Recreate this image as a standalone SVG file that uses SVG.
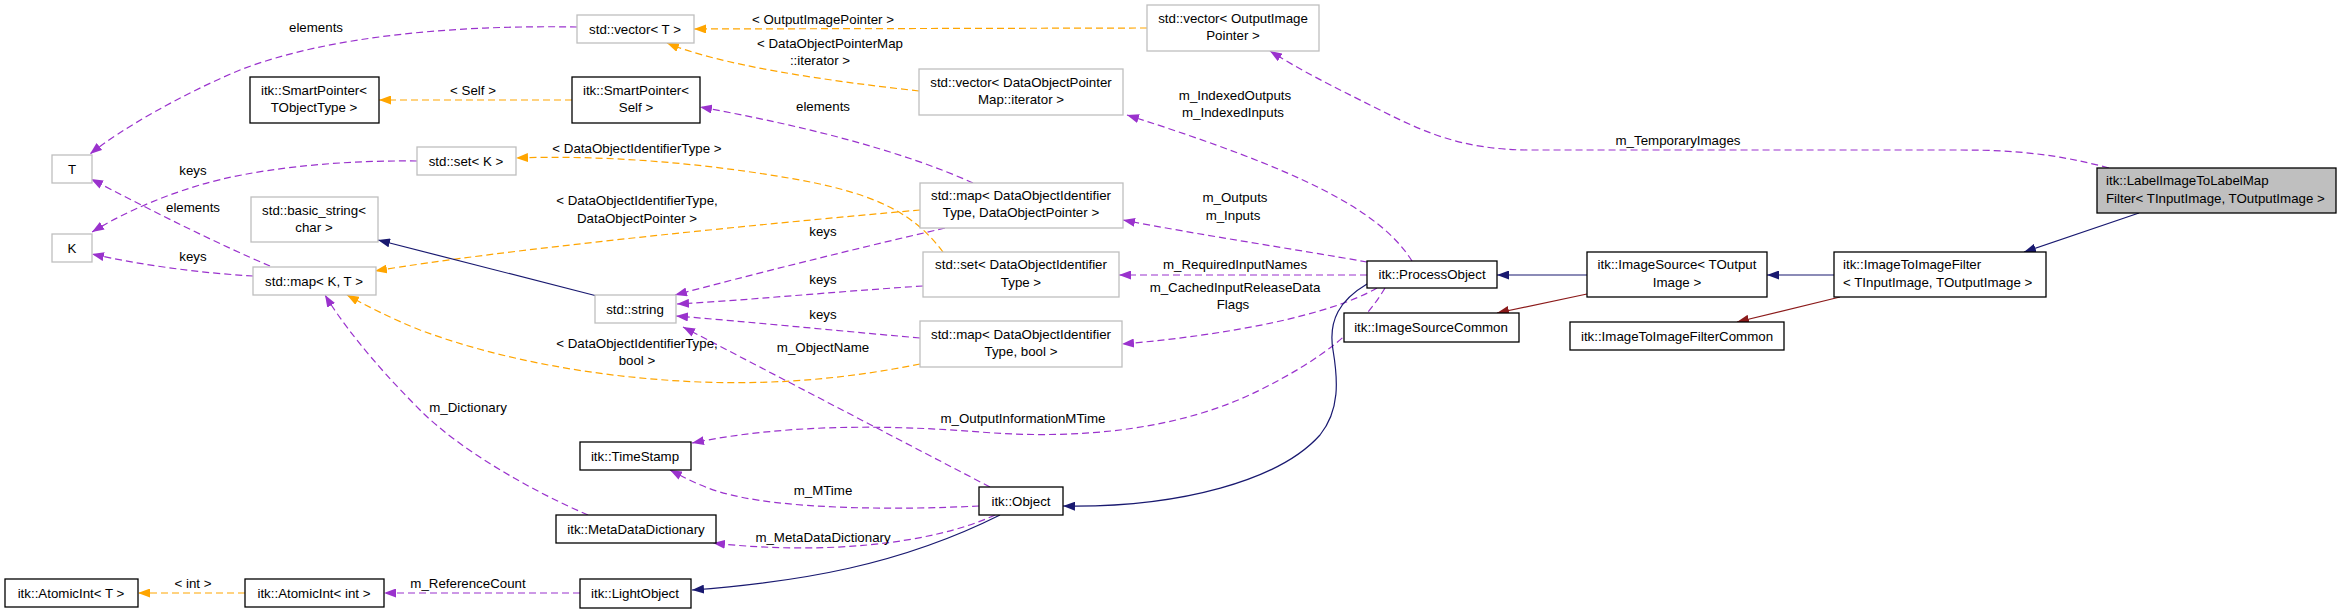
<svg xmlns="http://www.w3.org/2000/svg" width="2341" height="613" viewBox="0 0 2341 613">
<style>
text{font-family:"Liberation Sans",Arial,sans-serif;font-size:13.3px;fill:#000}
.n text{text-anchor:middle}
.g rect{fill:#fff;stroke:#bfbfbf;stroke-width:1.3}
.b rect{fill:#fff;stroke:#000;stroke-width:1.3}
.e path{fill:none;stroke-width:1.2}
.p{stroke:#9a32cd;stroke-dasharray:7,4;marker-end:url(#mp)}
.o{stroke:#ffa500;stroke-dasharray:7,4;marker-end:url(#mo)}
.v{stroke:#191970;marker-end:url(#mv)}
.r{stroke:#8b1a1a;marker-end:url(#mr)}
.l text{text-anchor:middle}
</style>
<defs>
<marker id="mp" markerUnits="userSpaceOnUse" markerWidth="12" markerHeight="9" refX="12" refY="4.5" orient="auto"><path d="M0,0 L12,4.5 L0,9z" fill="#9a32cd"/></marker>
<marker id="mo" markerUnits="userSpaceOnUse" markerWidth="12" markerHeight="9" refX="12" refY="4.5" orient="auto"><path d="M0,0 L12,4.5 L0,9z" fill="#ffa500"/></marker>
<marker id="mv" markerUnits="userSpaceOnUse" markerWidth="12" markerHeight="9" refX="12" refY="4.5" orient="auto"><path d="M0,0 L12,4.5 L0,9z" fill="#191970"/></marker>
<marker id="mr" markerUnits="userSpaceOnUse" markerWidth="12" markerHeight="9" refX="12" refY="4.5" orient="auto"><path d="M0,0 L12,4.5 L0,9z" fill="#8b1a1a"/></marker>
</defs>
<rect width="2341" height="613" fill="#fff"/>
<g id="edges" class="e">
<path class="p" d="M577,27 C460,25 330,35 240,70 C180,95 120,130 90,154"/>
<path class="p" d="M417,161 C330,160 250,170 200,185 C150,200 115,218 92,232"/>
<path class="p" d="M270,266 C220,245 150,210 91,179"/>
<path class="p" d="M253,276 C200,273 140,265 92,254"/>
<path class="o" d="M572,100 L379,100"/>
<path class="o" d="M1147,28 L694,29"/>
<path class="o" d="M919,91 C820,80 720,65 667,43"/>
<path class="p" d="M973,183 C900,150 800,125 700,107"/>
<path class="o" d="M943,252 C915,215 880,195 800,180 C700,162 600,155 516,158"/>
<path class="o" d="M920,210 C750,225 500,250 375,271"/>
<path class="v" d="M597,296 L378,240"/>
<path class="p" d="M945,228 C850,250 750,275 675,295"/>
<path class="p" d="M923,286 C830,292 750,300 677,304"/>
<path class="p" d="M920,338 C830,330 750,322 676,316"/>
<path class="o" d="M920,364 C850,378 780,385 700,382 C600,378 500,360 420,330 C390,318 365,305 347,295"/>
<path class="p" d="M588,515 C530,490 460,450 420,410 C370,360 340,320 325,295"/>
<path class="p" d="M990,487 L683,327"/>
<path class="p" d="M1412,261 C1380,210 1300,170 1127,115"/>
<path class="p" d="M2109,168 C2060,155 2020,150 1960,150 L1530,150 C1460,150 1420,130 1380,110 C1330,85 1300,70 1270,51"/>
<path class="p" d="M1367,262 C1300,250 1200,235 1123,220"/>
<path class="p" d="M1367,275 L1119,275"/>
<path class="p" d="M1377,288 C1330,315 1230,335 1122,344"/>
<path class="p" d="M1385,288 C1360,330 1320,360 1260,390 C1180,430 1080,440 980,432 C880,424 780,425 692,443"/>
<path class="p" d="M979,506 C900,510 780,510 720,492 C700,486 685,478 670,470"/>
<path class="p" d="M995,515 C930,545 820,555 713,543"/>
<path class="o" d="M245,593 L138,593"/>
<path class="p" d="M580,593 L384,593"/>
<path class="v" d="M1000,515 C900,565 800,582 692,590"/>
<path class="v" d="M1367,284 C1340,300 1328,320 1333,350 C1338,380 1340,410 1320,435 C1280,480 1180,508 1063,506"/>
<path class="v" d="M1587,275 L1497,275"/>
<path class="r" d="M1587,294 L1497,313"/>
<path class="v" d="M1834,275 L1767,275"/>
<path class="r" d="M1840,297 L1737,322"/>
<path class="v" d="M2139,213 L2024,252"/>
</g>
<g id="labels" class="l">
<text x="316" y="32">elements</text>
<text x="193" y="175">keys</text>
<text x="193" y="212">elements</text>
<text x="193" y="261">keys</text>
<text x="473" y="95">&lt; Self &gt;</text>
<text x="823" y="24">&lt; OutputImagePointer &gt;</text>
<text x="830" y="48">&lt; DataObjectPointerMap</text>
<text x="820" y="65">::iterator &gt;</text>
<text x="823" y="111">elements</text>
<text x="637" y="153">&lt; DataObjectIdentifierType &gt;</text>
<text x="637" y="205">&lt; DataObjectIdentifierType,</text>
<text x="637" y="223">DataObjectPointer &gt;</text>
<text x="823" y="236">keys</text>
<text x="823" y="284">keys</text>
<text x="823" y="319">keys</text>
<text x="637" y="348">&lt; DataObjectIdentifierType,</text>
<text x="637" y="365">bool &gt;</text>
<text x="823" y="352">m_ObjectName</text>
<text x="468" y="412">m_Dictionary</text>
<text x="1023" y="423">m_OutputInformationMTime</text>
<text x="823" y="495">m_MTime</text>
<text x="823" y="542">m_MetaDataDictionary</text>
<text x="193" y="588">&lt; int &gt;</text>
<text x="468" y="588">m_ReferenceCount</text>
<text x="1235" y="100">m_IndexedOutputs</text>
<text x="1233" y="117">m_IndexedInputs</text>
<text x="1235" y="202">m_Outputs</text>
<text x="1233" y="220">m_Inputs</text>
<text x="1235" y="269">m_RequiredInputNames</text>
<text x="1235" y="292">m_CachedInputReleaseData</text>
<text x="1233" y="309">Flags</text>
<text x="1678" y="145">m_TemporaryImages</text>
</g>
<g class="n">
<g id="nT" class="g"><rect x="52" y="155" width="40" height="28"/><text x="72" y="174">T</text></g>
<g id="nK" class="g"><rect x="52" y="234" width="40" height="28"/><text x="72" y="253">K</text></g>
<g id="nSPT" class="b"><rect x="250" y="77" width="129" height="46"/><text x="314" y="95">itk::SmartPointer&lt;</text><text x="314" y="112">TObjectType &gt;</text></g>
<g id="nBS" class="g"><rect x="251" y="197" width="127" height="45"/><text x="314" y="215">std::basic_string&lt;</text><text x="314" y="232">char &gt;</text></g>
<g id="nMapKT" class="g"><rect x="253" y="267" width="123" height="28"/><text x="314" y="286">std::map&lt; K, T &gt;</text></g>
<g id="nSetK" class="g"><rect x="417" y="147" width="99" height="28"/><text x="466" y="166">std::set&lt; K &gt;</text></g>
<g id="nVecT" class="g"><rect x="577" y="15" width="117" height="28"/><text x="635" y="34">std::vector&lt; T &gt;</text></g>
<g id="nSPS" class="b"><rect x="572" y="77" width="128" height="46"/><text x="636" y="95">itk::SmartPointer&lt;</text><text x="636" y="112">Self &gt;</text></g>
<g id="nStr" class="g"><rect x="595" y="295" width="81" height="28"/><text x="635" y="314">std::string</text></g>
<g id="nVecOIP" class="g"><rect x="1147" y="5" width="172" height="46"/><text x="1233" y="23">std::vector&lt; OutputImage</text><text x="1233" y="40">Pointer &gt;</text></g>
<g id="nVecIt" class="g"><rect x="919" y="69" width="204" height="46"/><text x="1021" y="87">std::vector&lt; DataObjectPointer</text><text x="1021" y="104">Map::iterator &gt;</text></g>
<g id="nMapDOP" class="g"><rect x="920" y="183" width="203" height="45"/><text x="1021" y="200">std::map&lt; DataObjectIdentifier</text><text x="1021" y="217">Type, DataObjectPointer &gt;</text></g>
<g id="nSetDOI" class="g"><rect x="923" y="252" width="196" height="45"/><text x="1021" y="269">std::set&lt; DataObjectIdentifier</text><text x="1021" y="287">Type &gt;</text></g>
<g id="nMapBool" class="g"><rect x="920" y="321" width="202" height="46"/><text x="1021" y="339">std::map&lt; DataObjectIdentifier</text><text x="1021" y="356">Type, bool &gt;</text></g>
<g id="nTS" class="b"><rect x="580" y="442" width="111" height="28"/><text x="635" y="461">itk::TimeStamp</text></g>
<g id="nMDD" class="b"><rect x="556" y="515" width="160" height="28"/><text x="636" y="534">itk::MetaDataDictionary</text></g>
<g id="nLO" class="b"><rect x="580" y="579" width="111" height="29"/><text x="635" y="598">itk::LightObject</text></g>
<g id="nAIT" class="b"><rect x="5" y="579" width="133" height="28"/><text x="71" y="598">itk::AtomicInt&lt; T &gt;</text></g>
<g id="nAII" class="b"><rect x="245" y="579" width="139" height="28"/><text x="314" y="598">itk::AtomicInt&lt; int &gt;</text></g>
<g id="nObj" class="b"><rect x="979" y="487" width="84" height="28"/><text x="1021" y="506">itk::Object</text></g>
<g id="nPO" class="b"><rect x="1367" y="261" width="130" height="27"/><text x="1432" y="279">itk::ProcessObject</text></g>
<g id="nISC" class="b"><rect x="1344" y="313" width="175" height="29"/><text x="1431" y="332">itk::ImageSourceCommon</text></g>
<g id="nIS" class="b"><rect x="1587" y="252" width="180" height="45"/><text x="1677" y="269">itk::ImageSource&lt; TOutput</text><text x="1677" y="287">Image &gt;</text></g>
<g id="nITIFC" class="b"><rect x="1570" y="322" width="214" height="28"/><text x="1677" y="341">itk::ImageToImageFilterCommon</text></g>
<g id="nITIF" class="b"><rect x="1834" y="252" width="212" height="45"/><text x="1843" y="269" style="text-anchor:start">itk::ImageToImageFilter</text><text x="1843" y="287" style="text-anchor:start">&lt; TInputImage, TOutputImage &gt;</text></g>
<g id="nLIL" class="b"><rect x="2097" y="168" width="239" height="45" style="fill:#bfbfbf"/><text x="2106" y="185" style="text-anchor:start">itk::LabelImageToLabelMap</text><text x="2106" y="203" style="text-anchor:start">Filter&lt; TInputImage, TOutputImage &gt;</text></g>
</g>
</svg>
